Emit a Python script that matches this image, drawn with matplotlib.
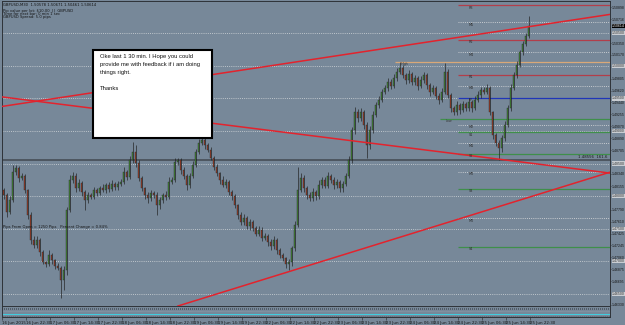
import matplotlib
matplotlib.use('Agg')
import matplotlib.pyplot as plt
import numpy as np
from matplotlib.patches import Rectangle

# ---------------- data ----------------
first_open = 1.4809
closes = [
    1.4802, 1.4776, 1.4794, 1.4837, 1.4843, 1.4828, 1.4831, 1.4809, 1.4771, 1.4733,
    1.4725, 1.4733, 1.4714, 1.4699, 1.4696, 1.4710, 1.4702, 1.4693, 1.4690, 1.4671,
    1.4687, 1.4779, 1.4825, 1.4831, 1.4812, 1.4820, 1.4806, 1.4794, 1.4802, 1.4799,
    1.4809, 1.4805, 1.4812, 1.4809, 1.4817, 1.4811, 1.4819, 1.4814, 1.4819, 1.4822,
    1.4837, 1.4829, 1.4855, 1.4868, 1.4851, 1.4828, 1.4812, 1.4802, 1.4797, 1.4805,
    1.4802, 1.4786, 1.4794, 1.4802, 1.4799, 1.4822, 1.4825, 1.4852, 1.4855, 1.4840,
    1.4831, 1.4817, 1.4831, 1.4848, 1.4868, 1.4882, 1.4886, 1.4878, 1.4871, 1.4859,
    1.4845, 1.4835, 1.4825, 1.4817, 1.4822, 1.4806, 1.4800, 1.4786, 1.4771, 1.4760,
    1.4766, 1.4754, 1.4760, 1.4751, 1.4742, 1.4748, 1.4736, 1.4739, 1.4730, 1.4723,
    1.4733, 1.4717, 1.4710, 1.4705, 1.4696, 1.4699, 1.4720, 1.4756, 1.4809, 1.4828,
    1.4812, 1.4802, 1.4797, 1.4806, 1.4800, 1.4817, 1.4825, 1.4816, 1.4831, 1.4825,
    1.4817, 1.4822, 1.4812, 1.4819, 1.4831, 1.4855, 1.4901, 1.4929, 1.4920, 1.4929,
    1.4909, 1.4878, 1.4901, 1.4925, 1.4940, 1.4948, 1.4960, 1.4966, 1.4975, 1.4969,
    1.4981, 1.4991, 1.4997, 1.4986, 1.4978, 1.4987, 1.4975, 1.4981, 1.4969, 1.4978,
    1.4986, 1.4970, 1.4960, 1.4966, 1.4954, 1.4948, 1.4960, 1.4991, 1.4955, 1.4935,
    1.4929, 1.4940, 1.4932, 1.4941, 1.4935, 1.4944, 1.4935, 1.4948, 1.4955, 1.4963,
    1.4960, 1.4966, 1.4929, 1.4894, 1.4882, 1.4874, 1.4889, 1.4909, 1.4935, 1.4966,
    1.4986, 1.5001, 1.5021, 1.5033, 1.5046, 1.50614,
]
upper_wick_pips = [
    4, 3, 6, 10, 5, 3, 4, 3, 2, 4,
    5, 6, 3, 4, 2, 8, 3, 2, 4, 2,
    6, 5, 8, 6, 4, 7, 3, 4, 5, 3,
    5, 3, 4, 6, 3, 4, 5, 3, 4, 5,
    7, 3, 6, 15, 10, 4, 3, 2, 5, 4,
    3, 4, 5, 3, 6, 8, 5, 6, 4, 3,
    4, 3, 5, 6, 4, 5, 6, 4, 3, 5,
    3, 4, 2, 6, 5, 3, 4, 3, 2, 4,
    6, 3, 5, 4, 3, 6, 4, 5, 3, 4,
    6, 3, 4, 3, 2, 5, 4, 6, 35, 8,
    4, 3, 5, 6, 3, 7, 5, 4, 6, 3,
    4, 5, 3, 4, 5, 6, 5, 8, 4, 6,
    3, 4, 6, 5, 4, 6, 5, 4, 7, 5,
    6, 5, 9, 4, 3, 6, 4, 5, 3, 6,
    5, 3, 4, 5, 3, 4, 6, 13, 4, 3,
    4, 6, 3, 5, 4, 6, 3, 5, 6, 5,
    4, 6, 3, 2, 3, 4, 5, 6, 5, 6,
    5, 6, 4, 5, 4, 15,
]
lower_wick_pips = [
    6, 8, 4, 3, 5, 6, 4, 5, 6, 7,
    4, 5, 6, 3, 5, 4, 6, 5, 4, 27,
    15, 8, 4, 5, 6, 4, 6, 15, 5, 4,
    3, 5, 4, 3, 5, 4, 3, 5, 4, 3,
    4, 5, 3, 4, 6, 5, 4, 6, 7, 4,
    5, 15, 6, 4, 5, 3, 4, 3, 5, 6,
    5, 7, 4, 3, 4, 3, 4, 5, 4, 3,
    5, 4, 6, 3, 5, 4, 6, 5, 6, 4,
    5, 4, 6, 5, 4, 3, 5, 4, 6, 5,
    4, 6, 5, 4, 6, 9, 7, 5, 4, 3,
    5, 6, 4, 5, 6, 4, 5, 3, 4, 5,
    6, 4, 5, 6, 4, 3, 4, 5, 6, 4,
    6, 20, 5, 4, 3, 5, 4, 3, 5, 4,
    3, 4, 3, 5, 6, 4, 5, 4, 6, 3,
    4, 5, 6, 4, 5, 6, 4, 3, 5, 6,
    5, 4, 6, 3, 5, 4, 6, 3, 4, 5,
    4, 3, 5, 6, 5, 18, 6, 4, 3, 4,
    3, 4, 3, 4, 3, 4,
]

# right-axis labels that stay visible (the others sit under the grey level boxes)
price_ticks = [1.50898, 1.50716, 1.50350, 1.50170, 1.49805, 1.49620,
               1.49440, 1.49255, 1.49070, 1.48890, 1.48705, 1.48340, 1.48155,
               1.47790, 1.47610, 1.47425, 1.47245, 1.47060, 1.46875, 1.46695,
               1.46330]
grid_levels = [1.5050, 1.5000, 1.4950, 1.4900, 1.4850, 1.4800, 1.4750, 1.4700, 1.4650]

time_labels = ["16 Jun 2015", "16 Jun 22:30", "17 Jun 06:30", "17 Jun 14:30", "17 Jun 22:30",
               "18 Jun 06:30", "18 Jun 14:30", "18 Jun 22:30", "19 Jun 06:30", "19 Jun 14:30",
               "19 Jun 22:30", "22 Jun 06:30", "22 Jun 14:30", "22 Jun 22:30", "23 Jun 06:30",
               "23 Jun 14:30", "23 Jun 22:30", "24 Jun 06:30", "24 Jun 14:30", "24 Jun 22:30",
               "25 Jun 06:30", "25 Jun 14:30", "25 Jun 22:30"]
bars_per_label = 8

# trend lines: two anchor points (bar, price)
trend_lines = [((0, 1.4938), (175, 1.5060)),
               ((0, 1.4952), (175, 1.4851)),
               ((100, 1.4691), (175, 1.4798))]

# pivot-style levels: (price, label, kind, start bar)
pivot_levels = [
    (1.5093, "R3", "red", 151.5),
    (1.5067, "M5", "mid", 151.5),
    (1.5040, "R2", "red", 151.5),
    (1.5021, "M4", "mid", 151.5),
    (1.5006, "High", "orange", 130.5),
    (1.4986, "R1", "red", 151.5),
    (1.4969, "M3", "mid", 151.5),
    (1.4951, "PP", "blue", 151.5),
    (1.4918, "Low", "green", 145.5),
    (1.4909, "M2", "mid", 151.5),
    (1.4898, "S1", "green", 151.5),
    (1.4881, "M1", "mid", 151.5),
    (1.4865, "S2", "green", 151.5),
    (1.4837, "M0", "mid", 151.5),
    (1.4811, "S3", "green", 151.5),
    (1.4766, "M0", "mid", 151.5),
    (1.4722, "S4", "green", 151.5),
]
level_line = 1.48556
level_text = "1.48556  161.6"

header_lines = ["GBPUSD,M30  1.50578 1.50671 1.50461 1.50614",
                "Pip value per lot: $10.00  ||  GBPUSD",
                "Time for next bar: 0 min 1 sec",
                "GBPUSD Spread: 5.0 pips"]
pips_text = "Pips From Open = 1250 Pips   Percent Change = 0.84%"
note_text = ("Oke last 1 30 min. I Hope you could\nprovide me with feedback if i am doing\n"
             "things right.\n\nThanks")

# ---------------- styling ----------------
BG = '#778899'
UP = '#4a9a3c'
DOWN = '#b0442c'
WICK = '#1c1c1c'
TREND = '#e3232d'
AXFONT = 'Liberation Sans'
W, H = 625, 325

def fx(px):
    return px / W

def fy(py):
    return 1 - py / H

fig = plt.figure(figsize=(6.25, 3.25), dpi=100, facecolor=BG)

ax = fig.add_axes([fx(2), fy(306), fx(610) - fx(2), fy(1) - fy(306)])
ax.set_facecolor(BG)
ax.set_xlim(-0.5, -0.5 + 608 / 3)
ax.set_ylim(1.46313, 1.50995)
xmax = ax.get_xlim()[1]

# grid levels (dotted)
for g in grid_levels:
    ax.axhline(g, color='#d6dadd', lw=0.55, ls=(0, (1.2, 1.6)), zorder=1)

# long level line
ax.axhline(level_line, color='#4a525c', lw=1.3, zorder=2)
ax.text(xmax - 1, level_line + 0.00012, level_text, fontsize=2.8, ha='right', va='bottom',
        color='#1a1a1a', zorder=6)

# pivots
colors = {"red": '#b23e4a', "mid": '#e2e2e2', "orange": '#d9a878', "blue": '#2036b8', "green": '#3f8f4a'}
for price, lab, kind, start in pivot_levels:
    if kind == "mid":
        ax.hlines(price, start, xmax, color=colors[kind], lw=0.55, ls=(0, (1.2, 1.6)), zorder=2)
    else:
        ax.hlines(price, start, xmax, color=colors[kind], lw=0.9, zorder=2)
    if lab in ("High", "Low"):
        ax.text(start + 2, price - 0.00004, lab, fontsize=2.4, va='top', color='#3a3a3a', zorder=6)
    else:
        ax.text(start + 3.5, price - 0.00006, lab, fontsize=2.4, va='top', color='#2a2a2a', zorder=6)

# candles
c = np.array(closes)
o = np.array([first_open] + closes[:-1])
x = np.arange(len(c))
hi = np.maximum(o, c) + np.array(upper_wick_pips) / 1e4
lo = np.minimum(o, c) - np.array(lower_wick_pips) / 1e4
ax.vlines(x, lo, hi, color=WICK, lw=0.45, zorder=3)
body = np.maximum(np.abs(c - o), 0.00005)
ax.bar(x, body, bottom=np.minimum(o, c), width=0.6,
       color=np.where(c >= o, UP, DOWN), edgecolor=WICK, linewidth=0.25, zorder=4)

# trend lines
for p1, p2 in trend_lines:
    ax.axline(p1, p2, color=TREND, lw=1.1, zorder=5)

# right price axis
ax.yaxis.tick_right()
ax.set_yticks(price_ticks)
ax.set_yticklabels([f'{v:.5f}' for v in price_ticks], fontsize=2.5, color='#151515',
                   family=AXFONT)
ax.tick_params(axis='y', length=1.0, pad=0.6, width=0.4, colors='#222222', labelcolor='#151515')
ax.set_xticks([])
for s in ax.spines.values():
    s.set_color('#2e3338')
    s.set_linewidth(0.7)

ytr = ax.get_yaxis_transform()
for g in grid_levels:
    ax.text(1.0028, g, f'{g:.5f}', transform=ytr, fontsize=2.5, family=AXFONT, va='center',
            ha='left', color='#333333',
            bbox=dict(boxstyle='square,pad=0.05', fc='#c9cdd2', ec='none'),
            clip_on=False, zorder=10)
ax.text(1.0028, closes[-1], f'{closes[-1]:.5f}', transform=ytr, fontsize=2.5, family=AXFONT,
        va='center', ha='left', color='white',
        bbox=dict(boxstyle='square,pad=0.05', fc='#000000', ec='none'),
        clip_on=False, zorder=11)

# indicator pane
ax2 = fig.add_axes([fx(2), fy(317), fx(610) - fx(2), fy(306) - fy(317)])
ax2.set_facecolor(BG)
ax2.set_xlim(ax.get_xlim())
ax2.set_ylim(0, 1)
ax2.axhline(0.72, color='#4b5560', lw=1.2, ls=(0, (0.6, 0.6)))
ax2.axhline(0.55, color='#9aa6b2', lw=0.4, ls=(0, (1, 1)))
ax2.axhline(0.28, color='#3fd0e2', lw=0.7)
ax2.axhline(0.12, color='#5a6570', lw=0.5, ls=(0, (2, 1)))
ax2.set_yticks([])
tick_pos = [-0.5 + bars_per_label * k for k in range(len(time_labels))]
ax2.set_xticks(tick_pos)
ax2.set_xticklabels(time_labels, fontsize=2.9, color='#151515')
for lbl in ax2.get_xticklabels():
    lbl.set_ha('left')
ax2.tick_params(axis='x', length=2.2, pad=0.6, width=0.4, colors='#222222', labelcolor='#151515')
for s in ax2.spines.values():
    s.set_color('#2e3338')
    s.set_linewidth(0.7)

# header texts
for k, line in enumerate(header_lines):
    fig.text(fx(3), fy([5, 11, 14, 17][k]), line, fontsize=2.7, va='center', ha='left',
             color='#141414')
fig.text(fx(3), fy(227), pips_text, fontsize=2.7, va='center', ha='left', color='#141414')

# note box
box = Rectangle((fx(93), fy(138)), fx(212) - fx(93), fy(50) - fy(138), transform=fig.transFigure,
                facecolor='white', edgecolor='black', linewidth=1.5, zorder=20)
fig.add_artist(box)
fig.text(fx(100), fy(54), note_text, fontsize=4.2, family='Liberation Sans', va='top', ha='left',
         color='#111111', linespacing=1.75, zorder=21)

fig.savefig('out.png', dpi=100, facecolor=BG)
